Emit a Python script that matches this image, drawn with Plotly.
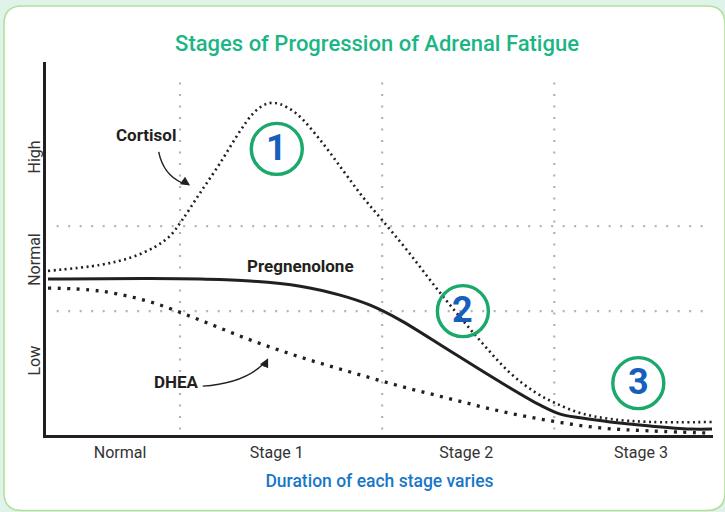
import plotly.graph_objects as go

# ---- data (x: 0-100 timeline, y: 0-100 hormone level) ----
cortisol_x = [0.3, 8.1, 12.6, 16.3, 18.6, 20.4, 23.1, 26.1, 29.1, 31.0, 32.4, 33.6, 35.1, 37.6, 41.1,
              44.5, 47.5, 50.5, 54.1, 59.1, 64.6, 69.6, 73.3, 76.3, 80.1, 84.6, 90.6, 99.85]
cortisol_y = [44.0, 45.6, 47.5, 50.4, 53.4, 57.6, 64.9, 72.9, 81.5, 86.1, 88.2, 89.0, 88.7, 86.1, 79.1,
              71.0, 63.8, 57.4, 49.6, 38.1, 26.3, 16.6, 11.5, 8.6, 5.9, 4.3, 3.5, 3.5]

preg_x = [0.3, 15.6, 23.1, 30.6, 38.1, 44.1, 48.6, 53.1, 60.6, 68.1, 74.1, 77.1, 80.1, 84.6, 90.6, 96.6, 99.85]
preg_y = [41.8, 41.95, 41.8, 41.3, 39.9, 37.5, 34.8, 30.8, 22.5, 14.2, 8.0, 5.6, 4.6, 3.5, 2.4, 1.6, 1.6]

dhea_x = [0.3, 8.1, 15.6, 23.1, 30.6, 38.1, 45.6, 53.1, 60.6, 68.1, 75.6, 83.1, 90.6, 99.85]
dhea_y = [39.4, 38.6, 35.7, 30.8, 25.5, 20.9, 16.9, 13.1, 9.7, 6.4, 3.8, 1.9, 1.1, 0.5]

stage_labels = ["Normal", "Stage 1", "Stage 2", "Stage 3"]
stage_label_pos = [11.1, 34.6, 63.0, 89.2]
stage_bounds = [20.1, 50.4, 76.2]

level_labels = ["High", "Normal", "Low"]
level_label_pos = [73.9, 46.4, 19.3]
level_bounds = [56.0, 33.2]

stage_numbers = ["1", "2", "3"]
stage_number_x = [34.6, 62.5, 88.8]
stage_number_y = [76.7, 33.2, 13.9]

series_labels = ["Cortisol", "Pregnenolone", "DHEA"]
series_label_x = [15.0, 38.2, 19.6]
series_label_y = [80.4, 45.3, 14.2]

title = "Stages of Progression of Adrenal Fatigue"
x_title = "Duration of each stage varies"

# ---- style ----
INK = "#231f20"
GRID = "#b3b3b3"
GREEN = "#1aa86b"
TITLE_GREEN = "#1cb585"
BLUE = "#1560bd"
XT_BLUE = "#1877c9"
NARROW = "Roboto, sans-serif"
DIN = "Roboto, Open Sans, sans-serif"

W, H = 725, 512
ML, MR, MT, MB = 46, 12, 62, 77
pw, ph = W - ML - MR, H - MT - MB

def px2paper(px, py):
    return (px - ML) / pw, (H - MB - py) / ph

fig = go.Figure()

fig.add_trace(go.Scatter(x=cortisol_x, y=cortisol_y, mode="lines", name="Cortisol",
                         line=dict(color=INK, width=2.6, dash="2px,3.5px", shape="spline", smoothing=1.0),
                         hoverinfo="skip"))
fig.add_trace(go.Scatter(x=preg_x, y=preg_y, mode="lines", name="Pregnenolone",
                         line=dict(color=INK, width=3, shape="spline", smoothing=1.0),
                         hoverinfo="skip"))
fig.add_trace(go.Scatter(x=dhea_x, y=dhea_y, mode="lines", name="DHEA",
                         line=dict(color=INK, width=3.3, dash="3px,6.5px", shape="spline", smoothing=1.0),
                         hoverinfo="skip"))

shapes = []
# card background
x0, y0 = px2paper(4, 510.5)
x1, y1 = px2paper(725, 6)
rx, ry = 18 / pw, 18 / ph
card = (f"M {x0+rx},{y1} L {x1-rx},{y1} Q {x1},{y1} {x1},{y1-ry} L {x1},{y0+ry} "
        f"Q {x1},{y0} {x1-rx},{y0} L {x0+rx},{y0} Q {x0},{y0} {x0},{y0+ry} "
        f"L {x0},{y1-ry} Q {x0},{y1} {x0+rx},{y1} Z")
shapes.append(dict(type="path", path=card, xref="paper", yref="paper", layer="below",
                   fillcolor="white", line=dict(color="#b3df9c", width=1.6)))
# grid lines
for xb in stage_bounds:
    shapes.append(dict(type="line", xref="x", yref="y", x0=xb, x1=xb, y0=1.5, y1=97,
                       layer="below", line=dict(color=GRID, width=2.2, dash="2px,9.5px")))
for yb in level_bounds:
    shapes.append(dict(type="line", xref="x", yref="y", x0=1.6, x1=99.5, y0=yb, y1=yb,
                       layer="below", line=dict(color=GRID, width=2.2, dash="2px,9.5px")))
# numbered circles
for cx, cy in zip(stage_number_x, stage_number_y):
    shapes.append(dict(type="circle", xref="x", yref="y", xsizemode="pixel", ysizemode="pixel",
                       xanchor=cx, yanchor=cy, x0=-25.5, x1=25.5, y0=-25.5, y1=25.5,
                       line=dict(color=GREEN, width=3.4), fillcolor="rgba(0,0,0,0)"))
# curved arrow shafts (data coords)
shapes.append(dict(type="path", xref="x", yref="y",
                   path="M 16.9,75.9 C 17.4,71.5 18.6,69.0 20.4,67.6",
                   line=dict(color=INK, width=1.4)))
shapes.append(dict(type="path", xref="x", yref="y",
                   path="M 23.5,13.1 C 27.5,13.6 30.5,15.5 32.5,18.9",
                   line=dict(color=INK, width=1.4)))

annotations = []
for t, x, y in zip(stage_numbers, stage_number_x, stage_number_y):
    annotations.append(dict(x=x, y=y, xref="x", yref="y", text=t, showarrow=False,
                            font=dict(family=DIN, size=36, color=BLUE, weight=700),
                            xanchor="center", yanchor="middle", yshift=1))
for t, x, y in zip(series_labels, series_label_x, series_label_y):
    annotations.append(dict(x=x, y=y, xref="x", yref="y", text=t, showarrow=False,
                            font=dict(family=NARROW, size=17, color=INK, weight=700),
                            xanchor="center", yanchor="middle"))
# arrowheads
annotations.append(dict(x=21.6, y=66.9, xref="x", yref="y", text="", showarrow=True,
                        ax=-9, ay=-6, arrowhead=2, arrowsize=1.3, arrowwidth=1.4, arrowcolor=INK,
                        standoff=0))
annotations.append(dict(x=33.3, y=20.6, xref="x", yref="y", text="", showarrow=True,
                        ax=-5, ay=10, arrowhead=2, arrowsize=1.3, arrowwidth=1.4, arrowcolor=INK,
                        standoff=0))

fig.update_layout(
    width=W, height=H,
    margin=dict(l=ML, r=MR, t=MT, b=MB),
    paper_bgcolor="#e0f3eb",
    plot_bgcolor="rgba(0,0,0,0)",
    showlegend=False,
    shapes=shapes,
    annotations=annotations,
    title=dict(text=title, x=0.52, xanchor="center", y=1 - 43 / H, yanchor="middle",
               font=dict(family=DIN, size=22, color=TITLE_GREEN, weight=500)),
    xaxis=dict(range=[0, 100], showgrid=False, zeroline=False, showline=True,
               linecolor=INK, linewidth=3, tickmode="array", tickvals=stage_label_pos,
               ticktext=stage_labels, ticks="", ticklabelstandoff=1,
               tickfont=dict(family=NARROW, size=16, color="#333333"),
               title=dict(text=x_title, standoff=14,
                          font=dict(family=DIN, size=17.5, color=XT_BLUE, weight=500))),
    yaxis=dict(range=[0, 100], showgrid=False, zeroline=False, showline=True,
               linecolor=INK, linewidth=3, tickmode="array", tickvals=level_label_pos,
               ticktext=level_labels, ticks="", tickangle=-90, ticklabelstandoff=-3,
               tickfont=dict(family=NARROW, size=16, color="#333333")),
)

fig.write_html("out.html", config={"displayModeBar": False},
               post_script="document.body.style.margin='0px';")
